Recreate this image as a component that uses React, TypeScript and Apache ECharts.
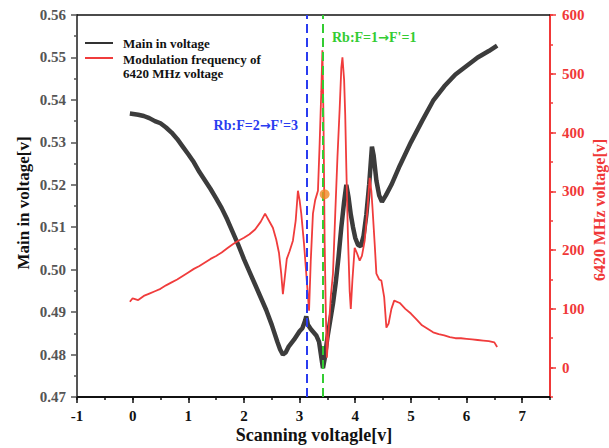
import React, { useEffect, useRef } from "react";
import * as echarts from "echarts";

const mainX = [-0.05, 0.1, 0.2, 0.3, 0.4, 0.5, 0.6, 0.7, 0.8, 0.9, 1.0, 1.1, 1.2, 1.3, 1.4, 1.5, 1.6, 1.7, 1.8, 1.9, 2.0, 2.1, 2.2, 2.3, 2.4, 2.5, 2.6, 2.65, 2.7, 2.75, 2.8, 2.9, 3.0, 3.05, 3.1, 3.12, 3.15, 3.2, 3.3, 3.35, 3.4, 3.42, 3.45, 3.5, 3.55, 3.6, 3.65, 3.7, 3.75, 3.8, 3.84, 3.88, 3.92, 3.96, 4.0, 4.05, 4.1, 4.15, 4.2, 4.25, 4.3, 4.33, 4.38, 4.43, 4.48, 4.55, 4.65, 4.8, 5.0, 5.2, 5.4, 5.6, 5.8, 6.0, 6.2, 6.4, 6.55];
const mainY = [0.5368, 0.5365, 0.5362, 0.5357, 0.535, 0.5345, 0.5335, 0.5323, 0.5308, 0.529, 0.5272, 0.5253, 0.523, 0.521, 0.519, 0.5168, 0.5145, 0.5118, 0.5088, 0.5058, 0.5025, 0.4995, 0.4965, 0.4935, 0.4905, 0.487, 0.483, 0.4812, 0.48, 0.4805, 0.4818, 0.4835, 0.4855, 0.4862, 0.488, 0.489, 0.487, 0.486, 0.4845, 0.483, 0.4785, 0.4768, 0.479, 0.484, 0.488, 0.492, 0.497, 0.503, 0.51, 0.516, 0.52, 0.517, 0.513, 0.51, 0.5075, 0.5058, 0.5055, 0.508, 0.513, 0.52, 0.529, 0.527, 0.521, 0.5175, 0.516, 0.5175, 0.52, 0.5245, 0.53, 0.535, 0.5398, 0.5432, 0.546, 0.548, 0.55, 0.5515, 0.5528];

const modX = [-0.05, 0.0, 0.1, 0.2, 0.3, 0.4, 0.5, 0.6, 0.7, 0.8, 0.9, 1.0, 1.1, 1.2, 1.3, 1.4, 1.5, 1.6, 1.7, 1.8, 1.9, 2.0, 2.1, 2.2, 2.3, 2.38, 2.45, 2.52, 2.58, 2.63, 2.67, 2.7, 2.73, 2.77, 2.82, 2.88, 2.93, 2.97, 3.0, 3.03, 3.08, 3.12, 3.17, 3.2, 3.24, 3.28, 3.33, 3.36, 3.39, 3.41, 3.43, 3.45, 3.47, 3.49, 3.52, 3.56, 3.6, 3.64, 3.68, 3.72, 3.75, 3.77, 3.8, 3.82, 3.84, 3.87, 3.9, 3.92, 3.95, 3.99, 4.03, 4.08, 4.12, 4.17, 4.22, 4.26, 4.29, 4.31, 4.35, 4.38, 4.43, 4.47, 4.52, 4.56, 4.6, 4.65, 4.7, 4.8, 4.9, 5.0, 5.1, 5.2, 5.3, 5.4, 5.5, 5.6, 5.7, 5.8, 5.9, 6.0, 6.1, 6.2, 6.3, 6.4, 6.5, 6.55];
const modY = [112, 118, 115, 122, 126, 130, 134, 140, 145, 150, 156, 162, 168, 173, 179, 185, 190, 196, 203, 210, 216, 221, 227, 235, 248, 262, 250, 238, 218, 195, 160, 125, 150, 185, 198, 216, 250, 301, 285, 262, 210, 160, 97, 180, 262, 285, 301, 380, 470, 540, 420, 216, 100, 17, 60, 120, 160, 260, 357, 440, 510, 528, 490, 430, 340, 220, 130, 100, 150, 204, 195, 182, 190, 216, 270, 323, 300, 272, 210, 160, 150, 148, 120, 68, 75, 100, 114, 110, 100, 92, 82, 72, 66, 60, 57, 55, 52, 50, 50, 49, 48, 47, 46, 45, 43, 35];

const markerLines = [3.12, 3.41];
const markerLabels = ["Rb:F=2{a|\u2192}F'=3", "Rb:F=1{a|\u2192}F'=1"];
const orangePoint = [3.45, 295];

const leftTicks = { min: 0.47, max: 0.56, step: 0.01 };
const rightTicks = { min: -50, max: 600, step: 100 };
const xTicks = { min: -1, max: 7.5, step: 1 };

const FONT = "'Liberation Serif', 'Times New Roman', serif";

export default function App() {
  const ref = useRef<HTMLDivElement>(null);
  useEffect(() => {
    if (!ref.current) return;
    const chart = echarts.init(ref.current, undefined, { renderer: "svg" });
    const mainData = mainX.map((x, i) => [x, mainY[i]]);
    const modData = modX.map((x, i) => [x, modY[i]]);
    const plotLeft = 77;
    const plotRight = 59;
    const plotTop = 15;
    const plotBottom = 51;
    const plotW = 609 - plotLeft - plotRight;
    const plotH = 448 - plotTop - plotBottom;
    const unitW = plotW / (xTicks.max - xTicks.min);
    const zeroBottom = 448 - (plotTop + plotH * (rightTicks.max / (rightTicks.max - rightTicks.min)));
    const labelBase = { fontFamily: FONT, fontWeight: "bold" as const, fontSize: 15 };
    const arrowRich = (color: string) => ({
      a: { fontFamily: "'DejaVu Sans', sans-serif", fontWeight: "bold", fontSize: 13, fill: color, color },
    });

    chart.setOption({
      animation: false,
      grid: [
        { left: plotLeft, right: plotRight, top: plotTop, bottom: plotBottom },
        { left: plotLeft, width: unitW * (7 - xTicks.min), top: plotTop, bottom: plotBottom },
        { left: plotLeft, right: plotRight, top: plotTop, bottom: zeroBottom },
      ],
      xAxis: [
        {
          type: "value", gridIndex: 0, min: xTicks.min, max: xTicks.max, interval: 0.5,
          axisLine: { show: true, onZero: false, lineStyle: { color: "#111", width: 2 } },
          axisTick: { show: true, length: 3, lineStyle: { color: "#111", width: 1.5 } },
          axisLabel: { show: false }, splitLine: { show: false },
        },
        {
          type: "value", gridIndex: 0, position: "top", min: xTicks.min, max: xTicks.max,
          axisLine: { show: true, onZero: false, lineStyle: { color: "#111", width: 1.5 } },
          axisTick: { show: false }, axisLabel: { show: false }, splitLine: { show: false },
        },
        {
          type: "value", gridIndex: 1, min: xTicks.min, max: 7, interval: xTicks.step,
          axisLine: { show: false, onZero: false },
          axisTick: { show: true, length: 6, lineStyle: { color: "#111", width: 1.5 } },
          axisLabel: { ...labelBase, color: "#111", margin: 11 },
          splitLine: { show: false },
        },
        { type: "value", gridIndex: 2, min: 0, max: 1, show: false, axisLine: { onZero: false } },
      ],
      yAxis: [
        {
          type: "value", gridIndex: 0, min: leftTicks.min, max: leftTicks.max, interval: leftTicks.step,
          axisLine: { show: true, onZero: false, lineStyle: { color: "#555", width: 2 } },
          axisTick: { show: true, length: 6, lineStyle: { color: "#555", width: 1.5 } },
          minorTick: { show: true, splitNumber: 2, length: 3, lineStyle: { color: "#555", width: 1.5 } },
          axisLabel: { ...labelBase, color: "#555", margin: 11, formatter: (v: number) => v.toFixed(2) },
          splitLine: { show: false }, minorSplitLine: { show: false },
        },
        {
          type: "value", gridIndex: 0, position: "right", min: rightTicks.min, max: rightTicks.max, interval: 50,
          axisLine: { show: true, onZero: false, lineStyle: { color: "#f03838", width: 2 } },
          axisTick: { show: true, length: 3, lineStyle: { color: "#f03838", width: 1.5 } },
          axisLabel: { show: false }, splitLine: { show: false },
        },
        { type: "value", gridIndex: 1, min: 0, max: 1, show: false, axisLine: { onZero: false } },
        {
          type: "value", gridIndex: 2, position: "right", min: 0, max: rightTicks.max, interval: rightTicks.step,
          axisLine: { show: false, onZero: false },
          axisTick: { show: true, length: 6, lineStyle: { color: "#f03838", width: 1.5 } },
          axisLabel: { ...labelBase, color: "#f03838", margin: 12 },
          splitLine: { show: false },
        },
      ],
      series: [
        {
          name: "Main in voltage", type: "line", xAxisIndex: 0, yAxisIndex: 0,
          data: mainData, showSymbol: false, symbol: "none",
          lineStyle: { color: "#3c3c3c", width: 4.5 },
          markLine: {
            silent: true, symbol: "none", label: { show: false },
            data: [
              { xAxis: markerLines[0], lineStyle: { color: "#2a3cf0", width: 2, type: [9, 5] } },
              { xAxis: markerLines[1], lineStyle: { color: "#33cc33", width: 2, type: [9, 5] } },
            ],
          },
          z: 2,
        },
        {
          name: "Modulation frequency of 6420 MHz voltage", type: "line", xAxisIndex: 0, yAxisIndex: 1,
          data: modData, showSymbol: false, symbol: "none",
          lineStyle: { color: "#f03c3c", width: 1.8 },
          z: 3,
        },
        {
          type: "scatter", xAxisIndex: 0, yAxisIndex: 1, data: [orangePoint],
          symbolSize: 10, itemStyle: { color: "#f08a24" }, z: 5,
        },
      ],
      graphic: [
        { type: "line", shape: { x1: 85, y1: 43, x2: 113, y2: 43 }, style: { stroke: "#333", lineWidth: 2 } },
        { type: "line", shape: { x1: 85, y1: 58, x2: 113, y2: 58 }, style: { stroke: "#f03c3c", lineWidth: 2 } },
        { type: "text", x: 123, y: 43, style: { text: "Main in voltage", font: `bold 13px ${FONT}`, fill: "#111", verticalAlign: "middle" } },
        { type: "text", x: 123, y: 59, style: { text: "Modulation frequency of", font: `bold 13px ${FONT}`, fill: "#111", verticalAlign: "middle" } },
        { type: "text", x: 123, y: 73, style: { text: "6420 MHz voltage", font: `bold 13px ${FONT}`, fill: "#111", verticalAlign: "middle" } },
        { type: "text", x: 298, y: 125, style: { text: markerLabels[0], font: `bold 14px ${FONT}`, fill: "#2a3cf0", align: "right", verticalAlign: "middle", rich: arrowRich("#2a3cf0") } },
        { type: "text", x: 332, y: 37, style: { text: markerLabels[1], font: `bold 14px ${FONT}`, fill: "#33cc33", align: "left", verticalAlign: "middle", rich: arrowRich("#33cc33") } },
        { type: "text", x: 314, y: 435, style: { text: "Scanning voltagle[v]", font: `bold 18px ${FONT}`, fill: "#111", align: "center", verticalAlign: "middle" } },
        { type: "text", x: 23, y: 203, rotation: Math.PI / 2, style: { text: "Main in voltage[v]", font: `bold 17px ${FONT}`, fill: "#111", align: "center", verticalAlign: "middle" } },
        { type: "text", x: 599, y: 210, rotation: Math.PI / 2, style: { text: "6420 MHz voltage[v]", font: `bold 16px ${FONT}`, fill: "#f03838", align: "center", verticalAlign: "middle" } },
      ],
    });
    return () => chart.dispose();
  }, []);
  return <div ref={ref} style={{ position: "fixed", left: 0, top: 0, width: 609, height: 448, background: "#fff" }} />;
}
